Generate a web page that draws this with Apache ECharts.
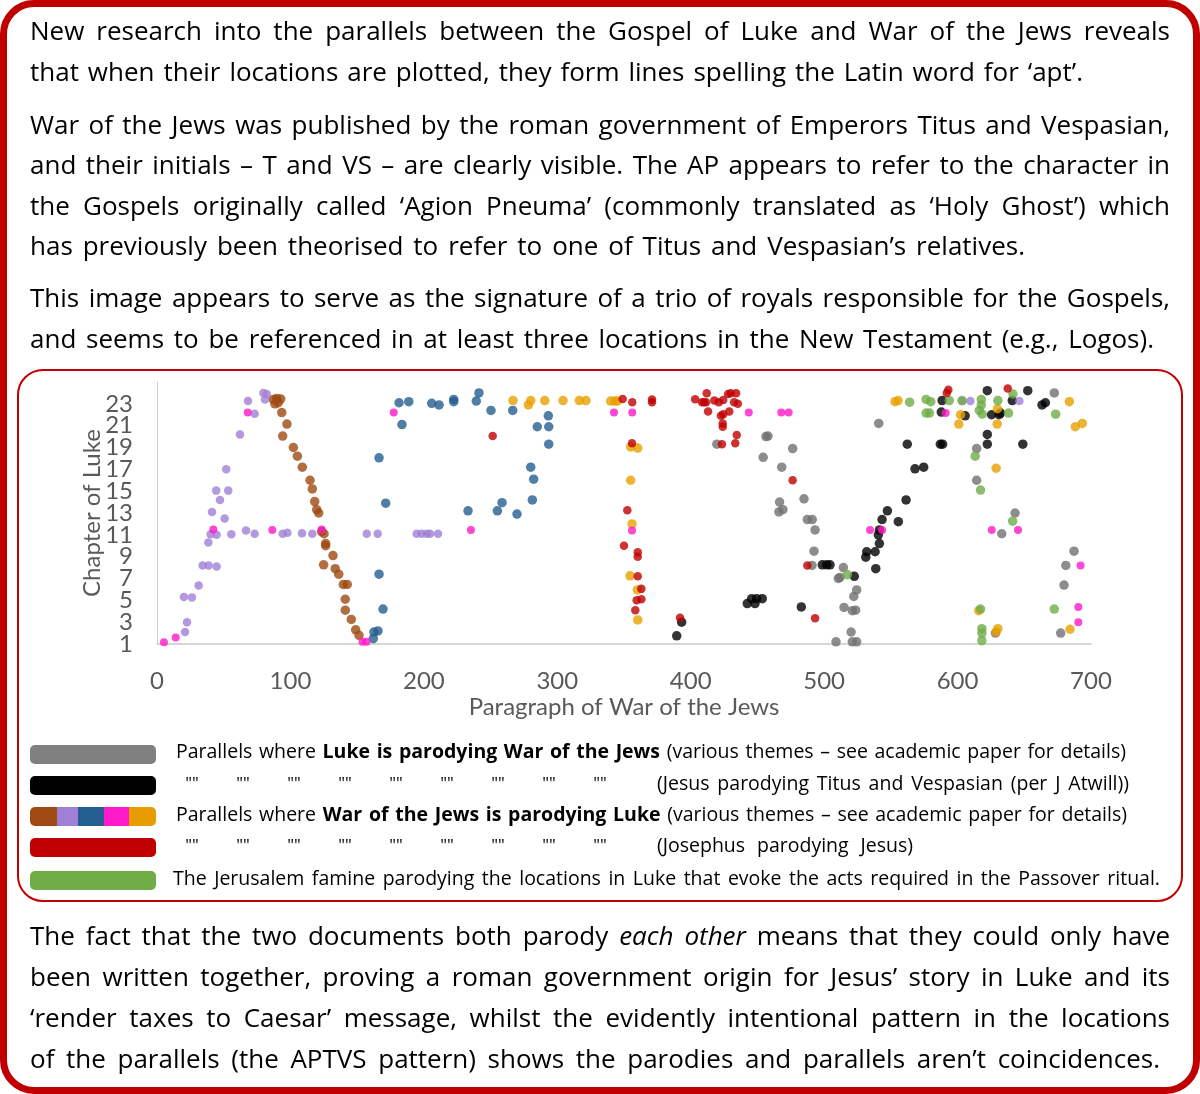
<!DOCTYPE html>
<html>
<head>
<meta charset="utf-8">
<script src="https://cdn.jsdelivr.net/npm/echarts@6/dist/echarts.min.js"></script>
<style>
  html, body { margin:0; padding:0; background:#fff; }
  body { width:1200px; height:1094px; position:relative; overflow:hidden; font-family: "Open Sans", Lato, sans-serif; color:#000; }
  #chart { position:absolute; left:0; top:0; width:1200px; height:1094px; z-index:1; }
  .frame { position:absolute; box-sizing:border-box; pointer-events:none; z-index:3; }
  .ln { position:absolute; white-space:nowrap; font-size:26px; line-height:30px; z-index:2; }
  .lg { position:absolute; white-space:nowrap; font-size:19.5px; line-height:22px; z-index:2; }
  .bar { position:absolute; left:30px; width:126px; height:19px; border-radius:5px; overflow:hidden; z-index:2; display:flex; }
  .q { position:absolute; font-size:17px; line-height:22px; z-index:2; transform:translateX(-50%); }
</style>
</head>
<body>
<div id="chart"></div>
<div class="frame" style="left:0;top:0;width:1200px;height:1094px;border:7px solid #c00000;border-radius:34px;"></div>
<div class="frame" style="left:17px;top:369px;width:1166px;height:533px;border:2.5px solid #c00000;border-radius:26px;"></div>

<div class="ln" style="left:30px;top:15px" data-w="1140"><span>New research into the parallels between the Gospel of Luke and War of the Jews reveals</span></div>
<div class="ln" style="left:30px;top:56px" data-w="1053"><span>that when their locations are plotted, they form lines spelling the Latin word for ‘apt’.</span></div>
<div class="ln" style="left:30px;top:109px" data-w="1140"><span>War of the Jews was published by the roman government of Emperors Titus and Vespasian,</span></div>
<div class="ln" style="left:30px;top:149px" data-w="1140"><span>and their initials – T and VS – are clearly visible. The AP appears to refer to the character in</span></div>
<div class="ln" style="left:30px;top:190px" data-w="1140"><span>the Gospels originally called ‘Agion Pneuma’ (commonly translated as ‘Holy Ghost’) which</span></div>
<div class="ln" style="left:30px;top:230px" data-w="995"><span>has previously been theorised to refer to one of Titus and Vespasian’s relatives.</span></div>
<div class="ln" style="left:30px;top:282px" data-w="1140"><span>This image appears to serve as the signature of a trio of royals responsible for the Gospels,</span></div>
<div class="ln" style="left:30px;top:323px" data-w="1124"><span>and seems to be referenced in at least three locations in the New Testament (e.g., Logos).</span></div>

<div class="ln" style="left:30px;top:920px" data-w="1140"><span>The fact that the two documents both parody <i>each other</i> means that they could only have</span></div>
<div class="ln" style="left:30px;top:961px" data-w="1140"><span>been written together, proving a roman government origin for Jesus’ story in Luke and its</span></div>
<div class="ln" style="left:30px;top:1002px" data-w="1140"><span>‘render taxes to Caesar’ message, whilst the evidently intentional pattern in the locations</span></div>
<div class="ln" style="left:30px;top:1043px" data-w="1130"><span>of the parallels (the APTVS pattern) shows the parodies and parallels aren’t coincidences.</span></div>

<div class="bar" style="top:745px;background:#808080"></div>
<div class="bar" style="top:776px;background:#000000"></div>
<div class="bar" style="top:807px"><div style="width:27px;background:#9e4a12"></div><div style="width:21px;background:#a07fd6"></div><div style="width:26px;background:#255e91"></div><div style="width:25px;background:#ff19c8"></div><div style="width:27px;background:#e89c00"></div></div>
<div class="bar" style="top:838px;background:#c00000"></div>
<div class="bar" style="top:871px;background:#70ad47"></div>

<div class="lg" style="left:176px;top:740px" data-w="950"><span>Parallels where <b>Luke is parodying War of the Jews</b> (various themes – see academic paper for details)</span></div>
<div class="lg" style="left:657px;top:772px" data-w="472"><span>(Jesus parodying Titus and Vespasian (per J Atwill))</span></div>
<div class="lg" style="left:176px;top:803px" data-w="951"><span>Parallels where <b>War of the Jews is parodying Luke</b> (various themes – see academic paper for details)</span></div>
<div class="lg" style="left:657px;top:834px" data-w="256"><span>(Josephus parodying Jesus)</span></div>
<div class="lg" style="left:173px;top:867px" data-w="987"><span>The Jerusalem famine parodying the locations in Luke that evoke the acts required in the Passover ritual.</span></div>
<div id="quotes"></div>

<script>
// ---------- DATA ----------
const xAxisRange = [0, 700, 100];   // min, max, interval (Paragraph of War of the Jews)
const yAxisRange = [1, 25, 2];      // min, max, interval (Chapter of Luke)

// Luke parodying War of the Jews (grey)
const greyPoints = [[419.6,19.3],[457.9,20.05],[456.4,20.0],[476.4,18.9],[454.3,18.1],[468.2,17.2],[484.9,14.3],[466.6,14.0],[469.1,13.3],[466.1,13.1],[487.4,12.4],[491.1,12.4],[493.2,11.45],[492.4,9.5],[490.9,8.2],[510.6,7.0],[508.9,1.2],[514.4,8.0],[511.9,7.1],[524.4,5.95],[522.2,5.35],[514.9,4.35],[521.1,4.05],[523.6,4.1],[520.2,2.1],[521.1,1.2],[524.4,1.2],[540.9,21.2],[614.3,18.9],[614.3,16.0],[643.1,13.0],[633.1,11.1],[672.5,24.0],[687.3,9.5],[681.1,8.2],[679.8,6.4],[677.3,2.0],[628.4,2.0]];
// Jesus parodying Titus and Vespasian (black)
const blackPoints = [[498.6,8.25],[501.9,8.25],[504.4,8.25],[445.7,5.15],[449.4,5.15],[453.6,5.15],[442.4,4.7],[448.2,4.7],[482.9,4.4],[393.2,3.0],[389.5,1.75],[522.6,7.2],[538.7,7.9],[531.9,9.45],[538.2,9.45],[531.2,8.95],[541.4,10.2],[540.6,11.0],[541.4,11.45],[543.4,12.4],[547.4,13.2],[555.6,12.2],[561.4,14.2],[568.1,17.05],[574.6,17.2],[562.3,19.3],[587.1,19.3],[588.8,19.3],[622.3,20.2],[622.3,19.3],[648.9,19.3],[588.4,23.3],[587.8,22.25],[605.7,21.9],[622.3,24.2],[625.5,22.0],[631.1,22.0],[632.2,22.15],[641,23.3],[652.6,24.2],[663.3,22.9],[665.8,23.1]];
// War of the Jews parodying Luke (brown, purple, blue, pink, orange)
const brownPoints = [[87.2,23.4],[89.7,23.5],[92.7,23.45],[88.4,23.0],[90.9,23.1],[93.5,22.2],[97.4,21.15],[94.2,20.05],[102.2,19.0],[105.2,18.2],[108.9,17.2],[114.7,16.0],[116.4,15.2],[118.2,14.05],[119.7,13.3],[121.2,13.0],[123.4,11.3],[125.2,11.1],[126.4,10.2],[126.4,10.0],[124.9,8.25],[131.9,9.1],[133.6,7.9],[136.2,7.4],[139.6,6.45],[142.6,6.45],[141.1,5.1],[141.1,4.1],[145.6,3.25],[148.9,2.3],[151.4,1.8]];
const purplePoints = [[21,2.1],[22.5,3.0],[20.2,5.3],[26.2,5.25],[31.2,6.35],[34.2,8.2],[38.7,8.2],[44.7,8.1],[38.5,10.3],[40.2,11.05],[44.7,11.0],[55.7,11.05],[66.7,11.4],[73.2,11.1],[94.2,11.1],[97.7,11.2],[108.7,11.15],[116.4,11.1],[157.2,11.1],[165.4,11.1],[41.2,13.1],[50.7,12.5],[47.2,14.2],[44.4,15.05],[53.4,15.05],[51.9,17.0],[62.2,20.2],[73.2,22.1],[68.2,23.25],[79.7,24.0],[82.2,23.9],[80.9,23.4],[194.6,11.1],[198.4,11.1],[202.1,11.1],[204.6,11.1],[210.6,11.1],[603.6,23.25],[609.6,23.25],[646.3,23.25]];
const bluePoints = [[166.4,18.05],[171.4,13.9],[166.4,7.4],[169.4,4.2],[162.6,2.1],[165.6,2.2],[162.1,1.5],[181.4,23.1],[188.7,23.2],[183.6,21.1],[205.9,23.05],[211.4,22.9],[222.4,23.4],[222.4,23.2],[241.3,24.0],[239.3,23.25],[250.3,22.4],[266.6,22.4],[293.3,21.9],[285,20.9],[293.6,20.9],[293.6,19.3],[280.1,17.2],[282.3,16.1],[281.3,14.2],[258.6,13.95],[255.1,13.2],[269.8,12.9],[233.1,13.2]];
const pinkPoints = [[5.2,1.15],[14,1.6],[68,22.2],[42.2,11.5],[86.4,11.45],[123.4,11.5],[154,1.2],[157,1.2],[177.4,22.2],[235.3,11.45],[342.5,22.2],[356.2,22.2],[356,11.4],[443.5,22.2],[467.9,22.2],[473.4,22.2],[591.1,22.15],[534.4,11.45],[543.4,11.45],[625.6,11.45],[645.3,11.45],[692.2,8.2],[690.5,4.4],[690.5,3.0]];
const orangePoints = [[266.8,23.3],[280.1,23.3],[278.3,22.9],[290.6,23.3],[304.3,23.3],[316.5,23.3],[321.5,23.3],[340,23.25],[343,23.25],[345,23.25],[355,19.05],[360.3,18.95],[355,16.0],[356,12.0],[354.5,7.25],[360,5.95],[360.3,3.2],[553.1,23.2],[555.4,23.3],[602.2,22.0],[600.9,21.15],[629.9,22.55],[629.7,21.15],[628.9,17.1],[615.9,4.05],[630.2,2.4],[628.9,2.1],[683.8,23.2],[688.2,20.9],[693.5,21.2],[684.3,2.35]];
// Josephus parodying Jesus (red)
const redPoints = [[251.6,20.05],[349,23.45],[356.2,23.15],[371,23.4],[371,23.15],[356,19.4],[352.5,13.25],[350,10.0],[360.3,9.4],[360.3,9.0],[360.3,7.2],[363,6.05],[359.5,5.0],[363,5.1],[358.5,4.1],[392,3.4],[403.3,23.43],[408.5,23.14],[410,23.14],[411.5,23.14],[412,23.98],[417.7,23.3],[421,23.14],[424.4,23.36],[428,23.9],[430,23.98],[434,23.98],[432.5,23.14],[435.3,23.0],[413,22.3],[424.4,22.05],[422.6,21.9],[428.9,22.3],[424,21.2],[424,20.9],[434.5,20.15],[423.4,19.3],[433.4,19.4],[476.4,16.0],[487.4,8.2],[493.2,3.35],[593.1,24.3],[591.9,24.0],[637.6,24.4]];
// Jerusalem famine / Passover ritual (green)
const greenPoints = [[517.4,7.35],[564.1,23.15],[576.4,23.4],[579.9,23.2],[576.4,22.15],[578.9,22.15],[593.8,23.3],[603.3,23.3],[617.8,23.4],[617.8,22.9],[616.3,22.4],[618.5,22.05],[630.2,23.3],[638.2,22.15],[641.5,23.9],[673.5,22.05],[613.2,18.2],[617.2,15.1],[641.3,12.25],[617.2,4.2],[618.2,2.4],[618.2,2.0],[618.2,1.3],[672.5,4.2]];

const seriesDefs = [
  { name:'grey',   data: greyPoints,   color:'#707070', size:9.5 },
  { name:'black',  data: blackPoints,  color:'#000000', size:9.5 },
  { name:'brown',  data: brownPoints,  color:'#9e4a12', size:9.5 },
  { name:'purple', data: purplePoints, color:'#a07fd6', size:8.5 },
  { name:'blue',   data: bluePoints,   color:'#255e91', size:9.5 },
  { name:'orange', data: orangePoints, color:'#e8a000', size:9.5 },
  { name:'green',  data: greenPoints,  color:'#70ad47', size:9.5 },
  { name:'pink',   data: pinkPoints,   color:'#ff19c8', size:8 },
  { name:'red',    data: redPoints,    color:'#c00000', size:8.5 }
];

// ---------- CHART ----------
const chart = echarts.init(document.getElementById('chart'), null, { renderer:'canvas' });
const axisFont = { fontFamily:'Lato', fontSize:24, color:'#595959' };
const yBase = {
  type:'value', min:yAxisRange[0], max:yAxisRange[1], interval:yAxisRange[2], position:'left',
  axisTick:{ show:false }, splitLine:{ show:false }
};
chart.setOption({
  animation:false,
  grid:{ left:157, right:109, top:382, bottom:450 },
  xAxis:{
    type:'value', min:xAxisRange[0], max:xAxisRange[1], interval:xAxisRange[2],
    name:'Paragraph of War of the Jews', nameLocation:'middle', nameGap:51, nameMoveOverlap:false,
    nameTextStyle:Object.assign({}, axisFont),
    axisLine:{ show:true, lineStyle:{ color:'#c8c8c8', width:1.5 } },
    axisTick:{ show:false }, splitLine:{ show:false },
    axisLabel:Object.assign({ margin:25 }, axisFont)
  },
  yAxis:[
    Object.assign({}, yBase, {
      name:'Chapter of Luke', nameLocation:'middle', nameGap:53, nameRotate:90, nameMoveOverlap:false,
      nameTextStyle:Object.assign({}, axisFont),
      axisLine:{ show:true, lineStyle:{ color:'#d0d0d0', width:1 } },
      axisLabel:Object.assign({ margin:24, showMinLabel:false, showMaxLabel:false }, axisFont)
    }),
    Object.assign({}, yBase, {
      axisLine:{ show:false },
      axisLabel:Object.assign({ margin:24, showMinLabel:true, showMaxLabel:false,
        formatter: v => (v === yAxisRange[0] ? String(v) : '') }, axisFont)
    })
  ],
  series: seriesDefs.map(s => ({
    type:'scatter', name:s.name, data:s.data, symbol:'circle', symbolSize:s.size, yAxisIndex:0,
    itemStyle:{ color:s.color }, emphasis:{ disabled:true }
  }))
});

// ---------- TEXT FITTING ----------
document.querySelectorAll('[data-w]').forEach(el => {
  const span = el.firstElementChild;
  const target = parseFloat(el.dataset.w);
  const w = span.getBoundingClientRect().width;
  const txt = span.textContent;
  const spaces = (txt.match(/ /g) || []).length;
  const diff = target - w;
  if (diff >= 0 && spaces) span.style.wordSpacing = (diff / spaces) + 'px';
  else span.style.letterSpacing = (diff / txt.length) + 'px';
});

// ditto marks in legend rows 2 and 4
const q = document.getElementById('quotes');
[772, 834].forEach(top => {
  for (let i = 0; i < 9; i++) {
    const d = document.createElement('div');
    d.className = 'q';
    d.style.left = (192 + i * 51) + 'px';
    d.style.top = top + 'px';
    d.textContent = '""';
    q.appendChild(d);
  }
});
</script>
</body>
</html>
